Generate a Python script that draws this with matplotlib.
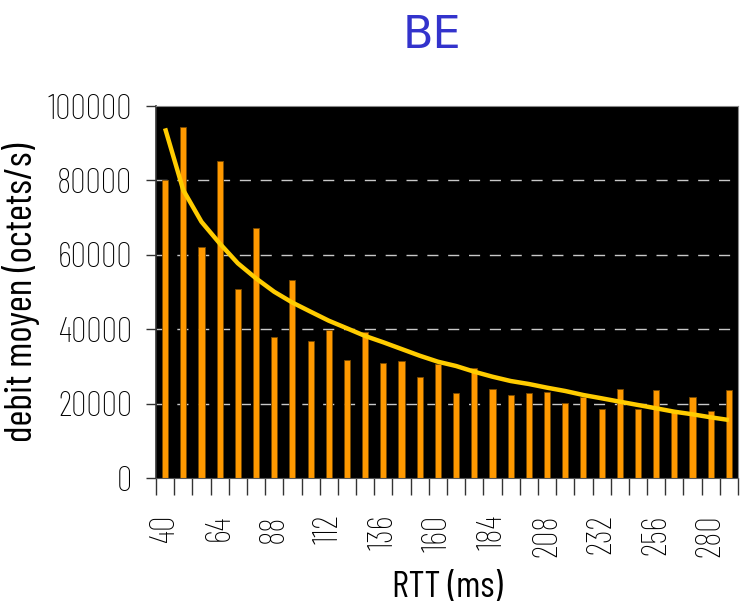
import matplotlib
matplotlib.use("Agg")
import matplotlib.pyplot as plt

# RTT categories (ms) and measured mean throughput (bytes/s)
rtt = [40, 48, 56, 64, 72, 80, 88, 96, 104, 112, 120, 128, 136, 144, 152, 160,
       168, 176, 184, 192, 200, 208, 216, 224, 232, 240, 248, 256, 264, 272, 280, 288]
debit = [80000, 94300, 62200, 85200, 50800, 67200, 38000, 53200, 36800, 39700,
         31800, 39200, 31100, 31400, 27300, 30700, 22800, 29700, 24000, 22400,
         22800, 23300, 20300, 21900, 18700, 24000, 18700, 23600, 17900, 21900,
         18200, 23600]
# smoothed trend of the throughput
tendance = [94000, 77400, 68900, 63100, 57750, 53700, 50100, 47200, 44750, 42330,
            40290, 38220, 36530, 34730, 32930, 31320, 30160, 28630, 27290, 26130,
            25330, 24340, 23450, 22370, 21490, 20580, 19690, 18800, 17890, 17190,
            16380, 15660]
y_ticks = [0, 20000, 40000, 60000, 80000, 100000]
label_step = 3

plt.rcParams['font.family'] = ['Barlow Condensed', 'DejaVu Sans']
plt.rcParams['font.weight'] = 'light'

fig = plt.figure(figsize=(7.40, 6.13), dpi=100)
ax = fig.add_axes([156 / 740, 1 - 478.3 / 613, (738 - 156) / 740, (478.3 - 106) / 613])
ax.set_facecolor('black')

idx = list(range(len(rtt)))
ax.set_xlim(-0.5, len(rtt) - 0.5)
ax.set_ylim(0, 100000)

for y in y_ticks[1:-1]:
    ax.axhline(y, color='#c8c8c8', lw=1.0, dashes=(8, 7), zorder=1)

ax.bar(idx, debit, width=0.34, color='#FF9900', edgecolor='#7a4a00',
       linewidth=0.6, zorder=2)
ax.plot(idx, tendance, color='#FFCC00', lw=3.2, zorder=3, solid_capstyle='butt')

# tick marks on category boundaries, labels on every third category
ax.set_xticks([i - 0.5 for i in range(len(rtt) + 1)])
ax.set_xticklabels([])
ax.tick_params(axis='x', which='major', length=12, width=1, color='#333333',
               direction='out')
ax.set_xticks(idx[::label_step], minor=True)
ax.set_xticklabels([str(r) for r in rtt[::label_step]], minor=True,
                   rotation=90, fontsize=25)
ax.tick_params(axis='x', which='minor', length=0, pad=26)

ax.set_yticks(y_ticks)
ax.set_yticklabels([str(v) for v in y_ticks], fontsize=25)
ax.tick_params(axis='y', length=7, width=1, color='#333333', pad=10)

for side in ['top', 'right']:
    ax.spines[side].set_color('#888888')
ax.spines['left'].set_color('#333333')
ax.spines['bottom'].set_color('#555555')
ax.spines['left'].set_linewidth(1.2)

ax.set_ylabel('debit moyen (octets/s)', fontsize=28, labelpad=6)
ax.set_xlabel('RTT (ms)', fontsize=27, labelpad=10)

fig.text(432 / 740, 1 - 36 / 613, 'BE', color='#3333CC', fontsize=32,
         ha='center', va='center', family=['DejaVu Sans'], weight='normal')

fig.savefig('out.png', dpi=100)
